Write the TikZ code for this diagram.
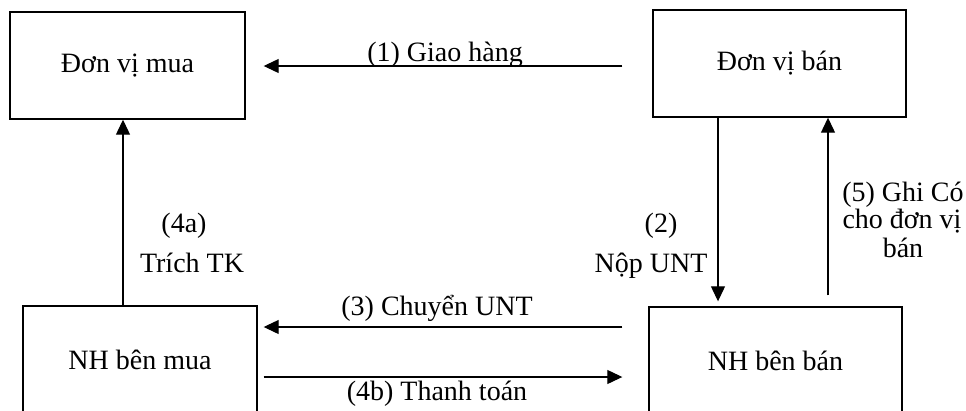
\documentclass[tikz,border=0pt]{standalone}
\usepackage{fontspec}
\setmainfont{Liberation Serif}
\usetikzlibrary{arrows.meta}
\begin{document}
\begin{tikzpicture}[x=1pt,y=-1pt,
  every node/.style={font=\fontsize{28}{30}\selectfont},
  box/.style={draw, line width=1.4pt, inner sep=0pt},
  arr/.style={line width=1.2pt, -{Triangle[length=15pt,width=14pt]}},
  lbl/.style={anchor=base, inner sep=0pt}]
\useasboundingbox (0,0) rectangle (966,410);
\clip (0,0) rectangle (966,410);

% parties and banks
\node[box, minimum width=235pt, minimum height=107pt] (dvm) at (127.5,65.5) {Đơn vị mua};
\node[box, minimum width=253pt, minimum height=107pt] (dvb) at (779.5,63.5) {Đơn vị bán};
\node[box, minimum width=234pt, minimum height=108pt] (nhm) at (140,360) {NH bên mua};
\node[box, minimum width=253pt, minimum height=108pt] (nhb) at (775.5,361) {NH bên bán};

% rows and columns of the connectors
\coordinate (r1) at (0,66);
\coordinate (r3) at (0,327);
\coordinate (r4) at (0,377);
\coordinate (c4a) at (123,0);
\coordinate (c2) at (718,0);
\coordinate (c5) at (828,0);

% connectors
\draw[arr, shorten <=30pt, shorten >=18pt] (dvb.west |- r1) -- (dvm.east |- r1);
\draw[arr, shorten <=26pt, shorten >=6pt] (nhb.west |- r3) -- (nhm.east |- r3);
\draw[arr, shorten <=6pt, shorten >=26pt] (nhm.east |- r4) -- (nhb.west |- r4);
\draw[arr] (nhm.north -| c4a) -- (dvm.south -| c4a);
\draw[arr, shorten >=5pt] (dvb.south -| c2) -- (nhb.north -| c2);
\draw[arr, shorten <=11pt] (nhb.north -| c5) -- (dvb.south -| c5);

% step labels
\node[lbl] (l1) at (445,61) {(1) Giao hàng};
\node[lbl] (l3) at (437,315) {(3) Chuyển UNT};
\node[lbl] (l4b) at (437,400) {(4b) Thanh toán};
\node[lbl] (l4a) at (184,232) {(4a)};
\node[lbl] (l4at) at (192,272) {Trích TK};
\node[lbl] (l2) at (661,232) {(2)};
\node[lbl] (l2t) at (651,272) {Nộp UNT};
\node[lbl] (l5) at (903,201) {(5) Ghi Có};
\node[lbl] (l5t) at (902,228) {cho đơn vị};
\node[lbl] (l5u) at (903,257) {bán};
\end{tikzpicture}
\end{document}
